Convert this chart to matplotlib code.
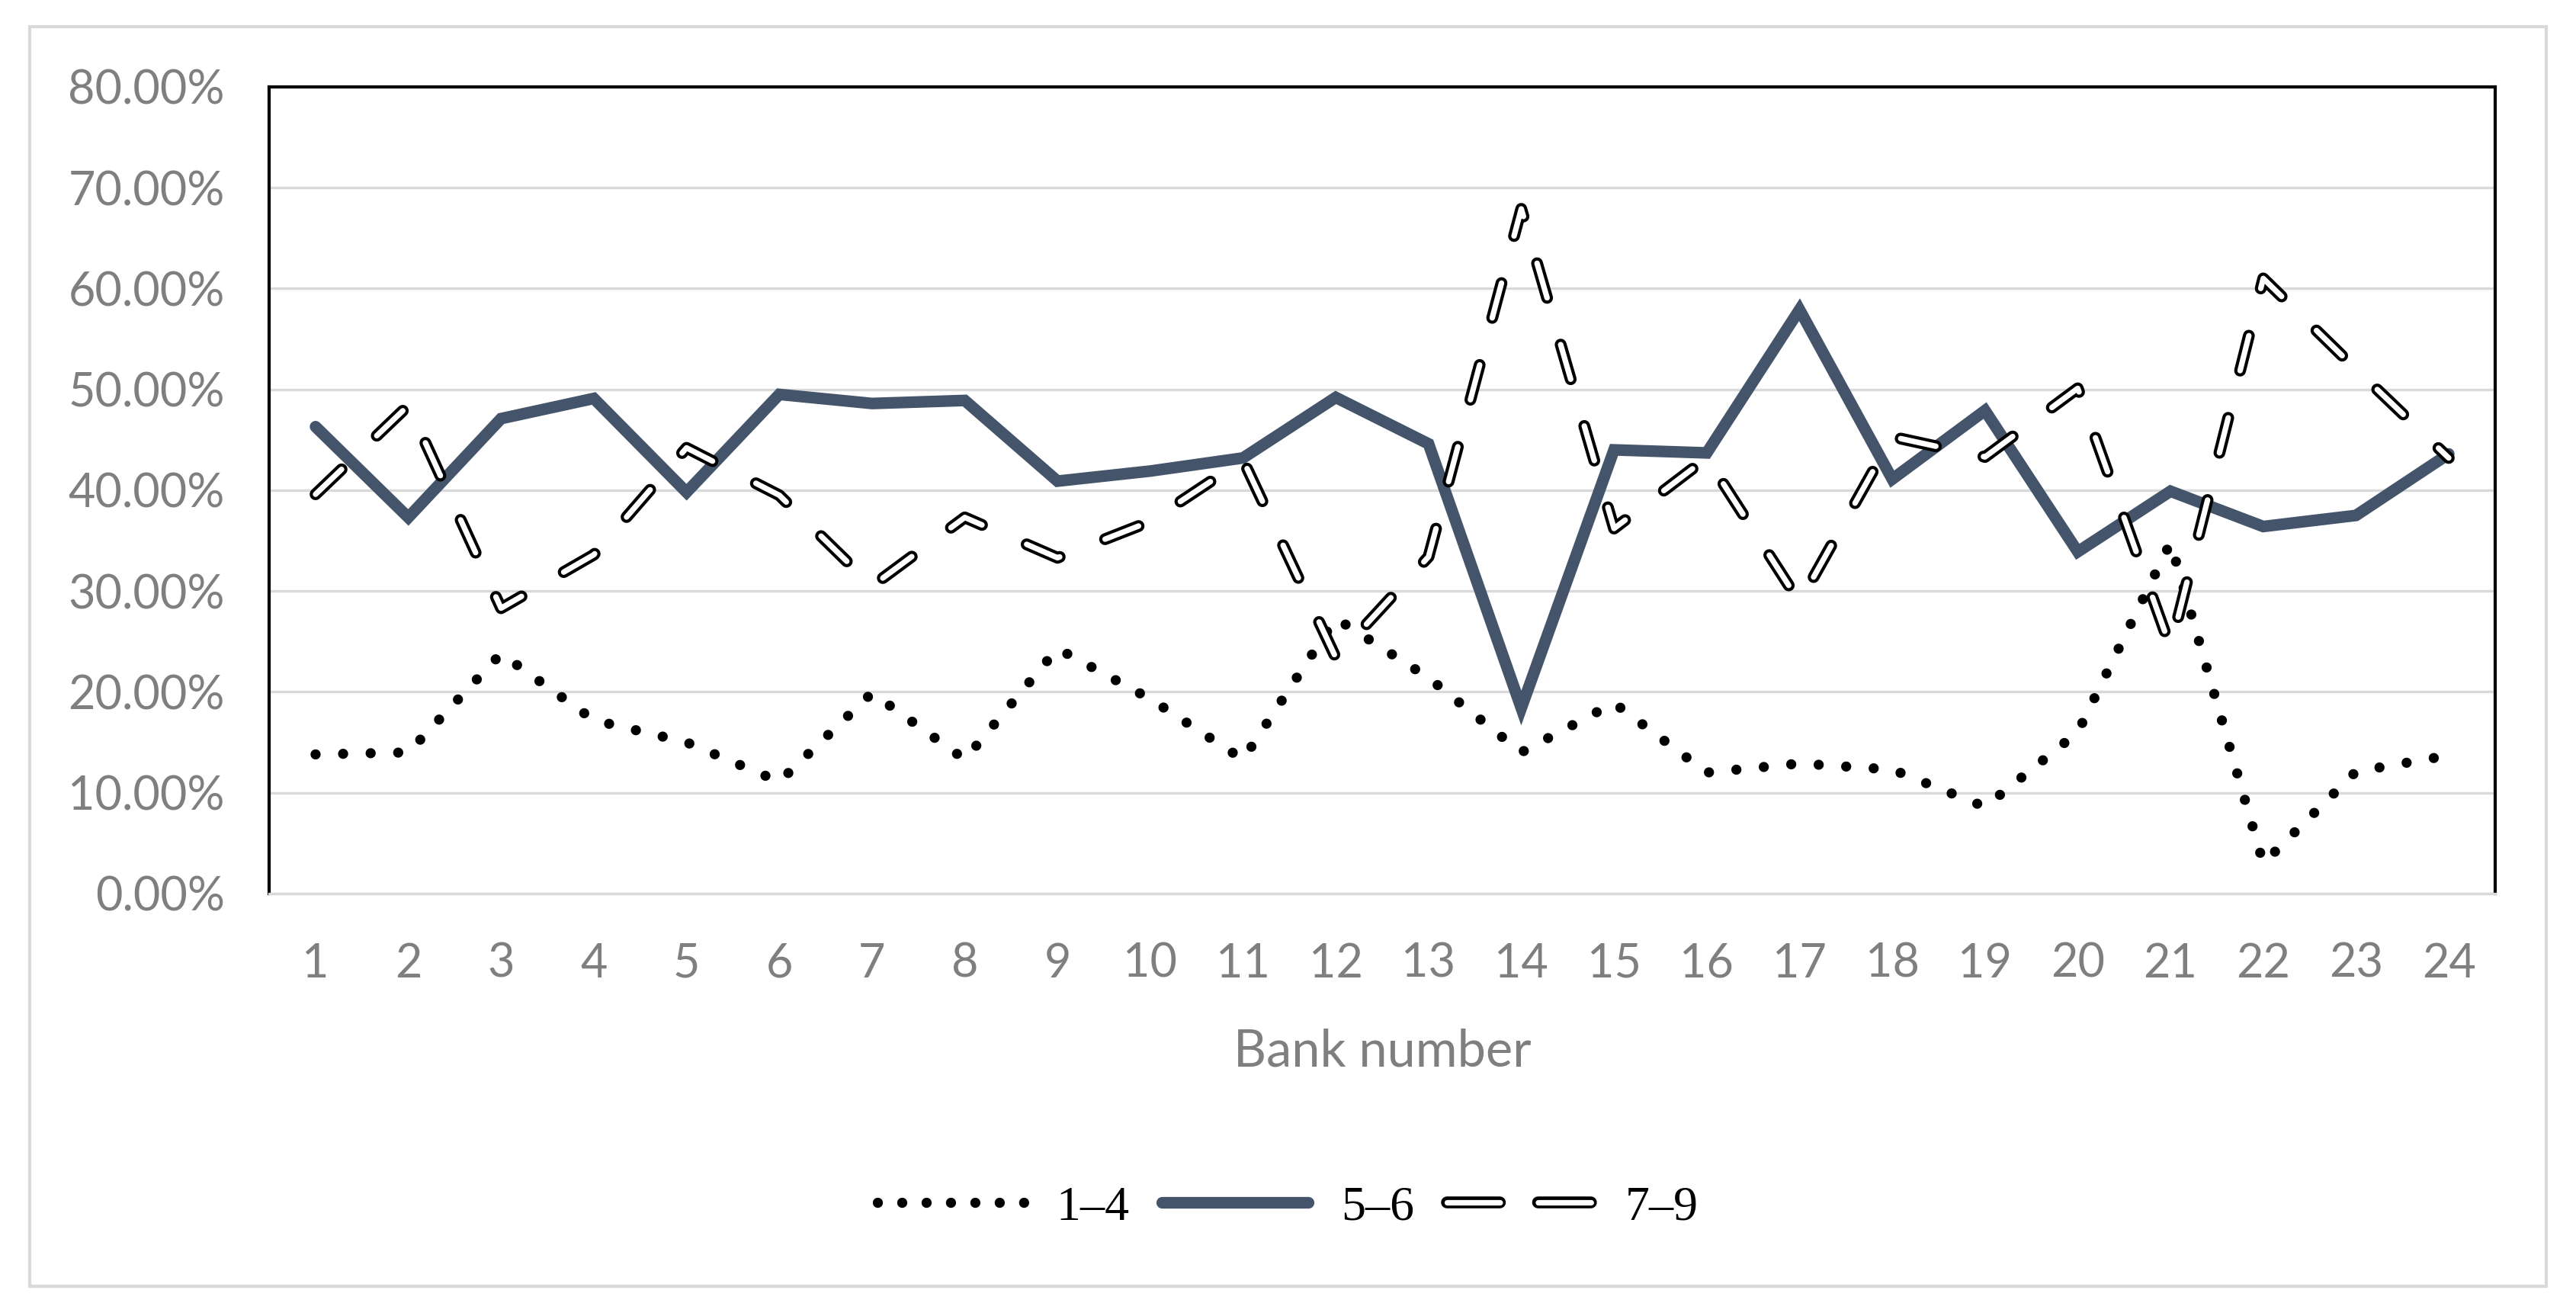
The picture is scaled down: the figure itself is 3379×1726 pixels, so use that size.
import matplotlib
matplotlib.use("Agg")
import matplotlib.pyplot as plt
from matplotlib.lines import Line2D
from matplotlib.patches import Rectangle
from matplotlib.legend_handler import HandlerTuple
from matplotlib.ticker import FuncFormatter

plt.rcParams['font.family'] = ['Lato', 'DejaVu Sans']
plt.rcParams['lines.scale_dashes'] = False

banks = list(range(1, 25))
group_1_4 = [13.8, 14.0, 23.8, 17.2, 15.0, 11.1, 19.9, 13.3, 24.3, 19.3, 13.3, 27.3,
             21.4, 14.0, 18.9, 12.0, 12.9, 12.3, 8.6, 16.0, 34.8, 3.0, 12.1, 13.7]
group_5_6 = [46.3, 37.3, 47.1, 49.1, 39.8, 49.5, 48.6, 48.9, 40.9, 41.9, 43.2, 49.2,
             44.6, 18.4, 44.0, 43.7, 57.9, 41.1, 47.9, 33.9, 39.9, 36.4, 37.5, 43.6]
group_7_9 = [39.6, 48.4, 28.3, 33.6, 44.2, 39.5, 30.5, 37.3, 33.3, 36.9, 43.0, 23.4,
             33.4, 67.9, 36.2, 43.2, 28.9, 45.3, 43.3, 50.1, 24.4, 61.0, 52.0, 43.2]
yticks = [0, 10, 20, 30, 40, 50, 60, 70, 80]
labels = ['1\u20134', '5\u20136', '7\u20139']

fig = plt.figure(figsize=(16.895, 8.63), dpi=200)
ax = fig.add_axes([0.1045, 0.321, 0.8641, 0.613])

dot_style = (0, (0.01, 13))
dash_style = (0, (17, 23))

# series
h1, = ax.plot(banks, group_1_4, color='black', lw=4.8, linestyle=dot_style,
              dash_capstyle='round')
h2, = ax.plot(banks, group_5_6, color='#44546a', lw=5.5, solid_joinstyle='miter',
              solid_capstyle='round')
# outlined dashes: black thick line with a thin white one on top
ax.plot(banks, group_7_9, color='black', lw=5.6, linestyle=dash_style, dash_capstyle='round')
ax.plot(banks, group_7_9, color='white', lw=2.6, linestyle=dash_style, dash_capstyle='round')

# legend proxies (legend dashes are longer than in the plot)
leg_dash = (0, (25, 18))
h3b = Line2D([], [], color='black', lw=5.6, linestyle=leg_dash, dash_capstyle='round')
h3w = Line2D([], [], color='white', lw=2.6, linestyle=leg_dash, dash_capstyle='round')
h1l = Line2D([], [], color='black', lw=4.8, linestyle=(0, (0.01, 11.5)), dash_capstyle='round')

ax.set_xlim(0.5, 24.5)
ax.set_ylim(0, 80)
ax.set_xticks(banks)
ax.set_yticks(yticks)
ax.yaxis.set_major_formatter(FuncFormatter(lambda v, p: '%.2f%%' % v))
ax.grid(axis='y', color='#d9d9d9', lw=1.2)
ax.set_axisbelow(True)
ax.tick_params(length=0, labelsize=22, colors='#7f7f7f')
ax.tick_params(axis='y', pad=21)
ax.tick_params(axis='x', pad=23)
ax.set_xlabel('Bank number', fontsize=24, color='#7f7f7f', labelpad=20)

for s in ['left', 'top', 'right']:
    ax.spines[s].set_color('black')
    ax.spines[s].set_linewidth(1.5)
ax.spines['bottom'].set_color('#d9d9d9')
ax.spines['bottom'].set_linewidth(1.2)

leg = fig.legend([h1l, h2, (h3b, h3w)], labels, loc='center', bbox_to_anchor=(0.5, 0.082),
                 ncol=3, frameon=False, handlelength=3.0, handletextpad=0.67,
                 columnspacing=0.67, prop={'family': 'Liberation Serif', 'size': 23},
                 handler_map={tuple: HandlerTuple(ndivide=1)})

# light outer border
fig.patches.append(Rectangle((0.0115, 0.0225), 0.977, 0.9575, transform=fig.transFigure,
                             fill=False, edgecolor='#d9d9d9', lw=1.5))

fig.savefig('out.png', dpi=200, facecolor='white')
